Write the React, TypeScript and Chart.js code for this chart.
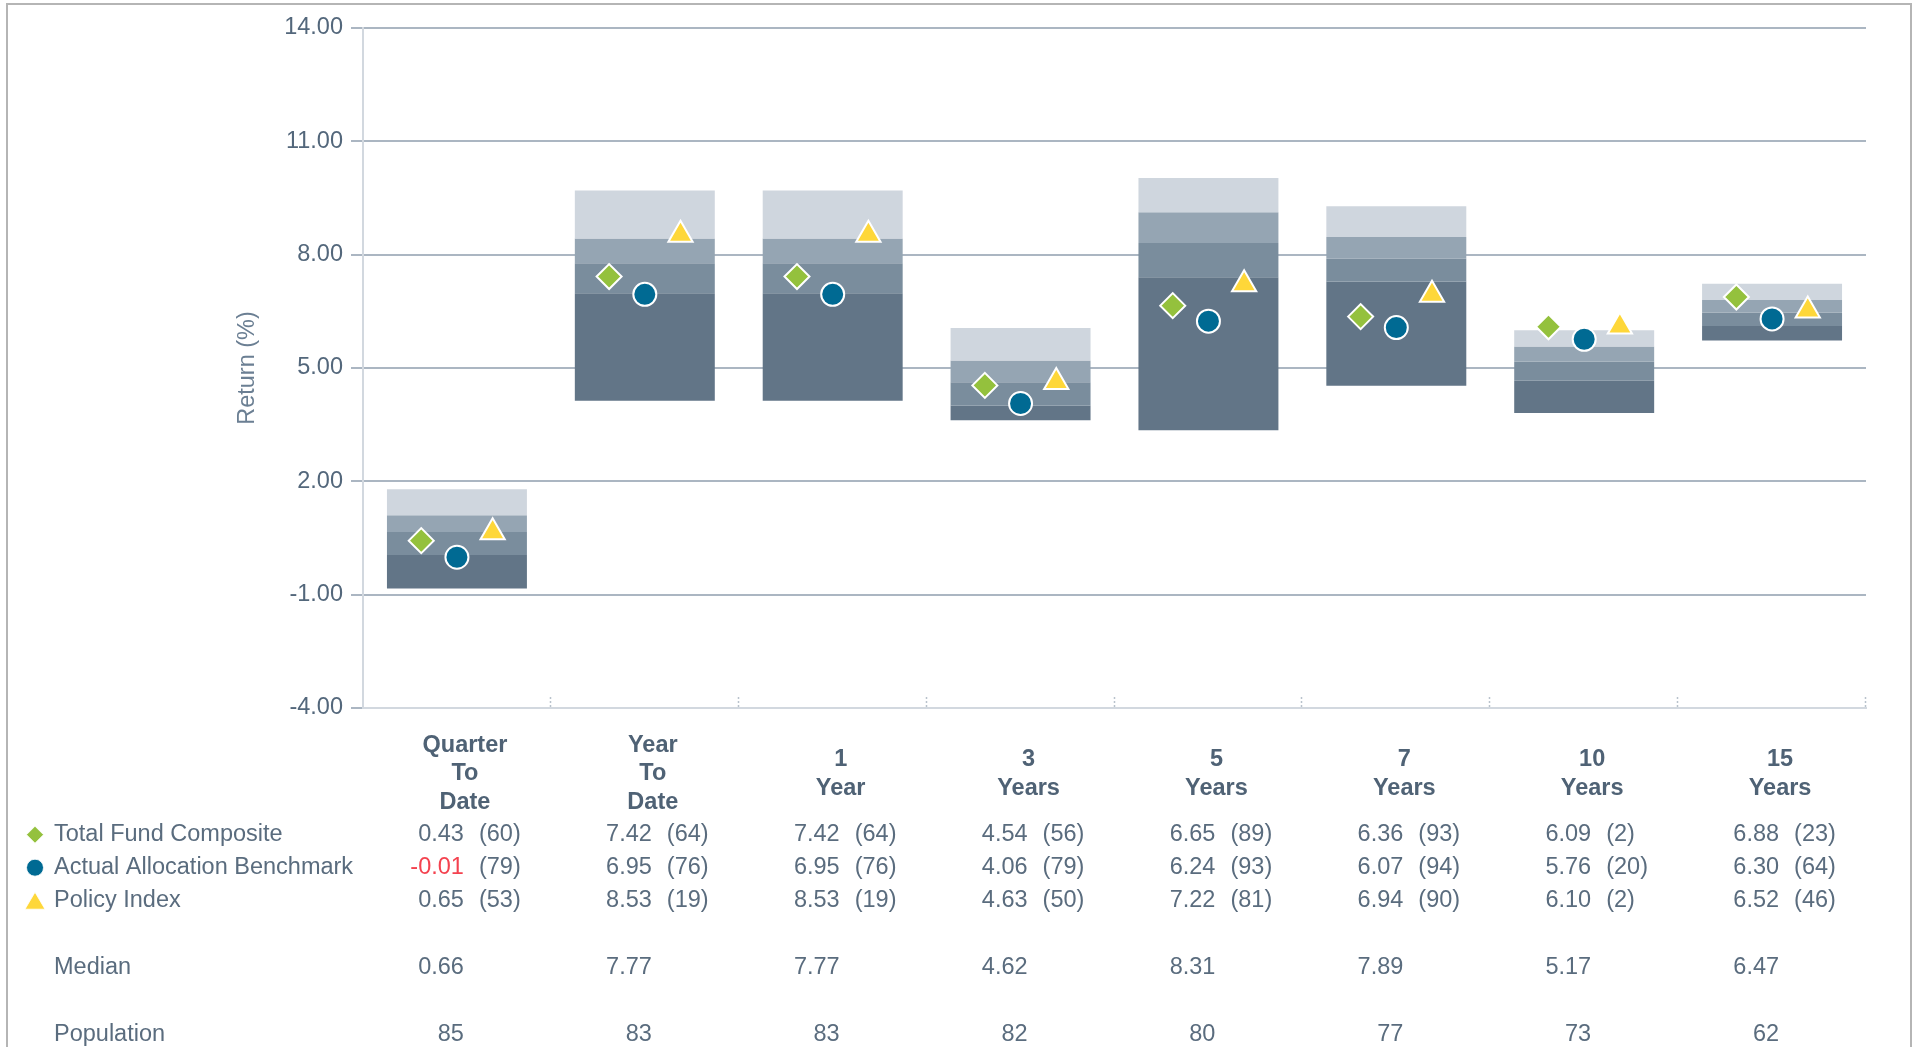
import React, { useEffect, useRef } from "react";
import { Chart, registerables } from "chart.js";

Chart.register(...registerables);

// Periods shown along the x axis (multi-line headings)
const periods: string[][] = [
  ["Quarter", "To", "Date"],
  ["Year", "To", "Date"],
  ["1", "Year"],
  ["3", "Years"],
  ["5", "Years"],
  ["7", "Years"],
  ["10", "Years"],
  ["15", "Years"],
];

// Returns (%) and peer ranks
const totalFund = [0.43, 7.42, 7.42, 4.54, 6.65, 6.36, 6.09, 6.88];
const totalFundRank = [60, 64, 64, 56, 89, 93, 2, 23];
const actualAllocation = [-0.01, 6.95, 6.95, 4.06, 6.24, 6.07, 5.76, 6.3];
const actualAllocationRank = [79, 76, 76, 79, 93, 94, 20, 64];
const policyIndex = [0.65, 8.53, 8.53, 4.63, 7.22, 6.94, 6.1, 6.52];
const policyIndexRank = [53, 19, 19, 50, 81, 90, 2, 46];

// Peer universe percentiles
const pct5 = [1.79, 9.7, 9.7, 6.06, 10.03, 9.28, 6.0, 7.23];
const pct25 = [1.1, 8.43, 8.43, 5.2, 9.12, 8.47, 5.57, 6.8];
const median = [0.66, 7.77, 7.77, 4.62, 8.31, 7.89, 5.17, 6.47];
const pct75 = [0.05, 6.98, 6.98, 4.01, 7.4, 7.29, 4.66, 6.11];
const pct95 = [-0.84, 4.13, 4.13, 3.62, 3.35, 4.53, 3.81, 5.73];
const population = [85, 83, 83, 82, 80, 77, 73, 62];

const yMin = -4;
const yMax = 14;
const yStep = 3;

const FONT = '"Liberation Sans", Arial, Helvetica, sans-serif';
const GREEN = "#94c13d";
const BLUE = "#006a93";
const YELLOW = "#fed739";
const BAND_COLORS = ["#cfd6de", "#95a5b3", "#7a8d9d", "#627587"];
const GRID = "#abb6c2";
const AXIS_LIGHT = "#d2d8df";
const TICK_COLOR = "#53677b";
const TITLE_COLOR = "#6b7f93";
const TEXT_COLOR = "#5a6c7e";
const HEAD_COLOR = "#4f6275";
const RED = "#f4424f";
const FRAME = "#b5b5b5";

const W = 1917;
const H = 1047;
const MARKER_SHIFT = 0.19; // sideways offset of the diamond / triangle, in category units
const FS = 23.5;

type Row = { label: string; values: number[]; ranks?: number[]; marker?: string; color?: string; digits: number };

const rows: Row[] = [
  { label: "Total Fund Composite", values: totalFund, ranks: totalFundRank, marker: "diamond", color: GREEN, digits: 2 },
  { label: "Actual Allocation Benchmark", values: actualAllocation, ranks: actualAllocationRank, marker: "circle", color: BLUE, digits: 2 },
  { label: "Policy Index", values: policyIndex, ranks: policyIndexRank, marker: "triangle", color: YELLOW, digits: 2 },
  { label: "Median", values: median, digits: 2 },
  { label: "Population", values: population, digits: 0 },
];
// vertical centres of the table rows, measured down from the bottom of the plot
const rowOffsets = [126.7, 159.7, 192.7, 259.7, 326.7];
const headerMidOffset = 66;
const headerLineH = 28.5;

function drawLegendMarker(ctx: CanvasRenderingContext2D, kind: string, x: number, y: number, color: string) {
  ctx.beginPath();
  if (kind === "diamond") {
    const r = 8.5;
    ctx.moveTo(x, y - r);
    ctx.lineTo(x + r, y);
    ctx.lineTo(x, y + r);
    ctx.lineTo(x - r, y);
  } else if (kind === "circle") {
    ctx.arc(x, y, 8.5, 0, Math.PI * 2);
  } else {
    ctx.moveTo(x, y - 8.5);
    ctx.lineTo(x + 10, y + 8.5);
    ctx.lineTo(x - 10, y + 8.5);
  }
  ctx.closePath();
  ctx.fillStyle = color;
  ctx.fill();
  ctx.lineWidth = 1;
  ctx.strokeStyle = "rgba(255,255,255,0.8)";
  ctx.stroke();
}

const tablePlugin = {
  id: "periodTable",
  afterDraw(chart: any) {
    const { ctx, chartArea } = chart;
    const xs = chart.scales.x;
    const bottom = chartArea.bottom;
    ctx.save();

    // outer frame
    ctx.strokeStyle = FRAME;
    ctx.lineWidth = 2;
    ctx.strokeRect(7, 4, 1904, 1100);

    // dotted separators between periods along the base of the plot
    ctx.strokeStyle = "#b9c2cc";
    ctx.lineWidth = 1.5;
    ctx.setLineDash([2, 2]);
    for (let i = 0; i < periods.length; i++) {
      const a = xs.getPixelForValue(i);
      const b = i + 1 < periods.length ? xs.getPixelForValue(i + 1) : a + (a - xs.getPixelForValue(i - 1));
      const bx = Math.round((a + b) / 2) - 0.5;
      ctx.beginPath();
      ctx.moveTo(bx, bottom - 11);
      ctx.lineTo(bx, bottom - 1);
      ctx.stroke();
    }
    ctx.setLineDash([]);

    // period headings
    ctx.fillStyle = HEAD_COLOR;
    ctx.font = `bold ${FS}px ${FONT}`;
    ctx.textAlign = "center";
    ctx.textBaseline = "middle";
    periods.forEach((lines, i) => {
      const cx = xs.getPixelForValue(i) + 8;
      const y0 = bottom + headerMidOffset - ((lines.length - 1) / 2) * headerLineH;
      lines.forEach((t, k) => ctx.fillText(t, cx, y0 + k * headerLineH));
    });

    // rows
    ctx.font = `${FS}px ${FONT}`;
    rows.forEach((row, r) => {
      const y = bottom + rowOffsets[r];
      if (row.marker) drawLegendMarker(ctx, row.marker, 35, y, row.color as string);
      ctx.fillStyle = TEXT_COLOR;
      ctx.textAlign = "left";
      ctx.fillText(row.label, 54, y);
      row.values.forEach((v, i) => {
        const cx = xs.getPixelForValue(i);
        ctx.textAlign = "right";
        ctx.fillStyle = v < 0 ? RED : TEXT_COLOR;
        ctx.fillText(v.toFixed(row.digits), cx + 7, y);
        if (row.ranks) {
          ctx.textAlign = "left";
          ctx.fillStyle = TEXT_COLOR;
          ctx.fillText(`(${row.ranks[i]})`, cx + 22, y);
        }
      });
    });
    ctx.restore();
  },
};

export default function App() {
  const canvasRef = useRef<HTMLCanvasElement | null>(null);

  useEffect(() => {
    const canvas = canvasRef.current;
    if (!canvas) return;

    const pointData = (vals: number[], shift: number) => vals.map((v, i) => ({ x: i + shift, y: v }));
    const markerBase = {
      type: "scatter" as const,
      xAxisID: "xm",
      yAxisID: "y",
      pointBorderColor: "#ffffff",
      pointBorderWidth: 2,
      order: 0,
    };
    const band = (lo: number[], hi: number[], color: string, label: string) => ({
      type: "bar" as const,
      label,
      data: lo.map((v, i) => [v, hi[i]]),
      backgroundColor: color,
      borderWidth: 0,
      grouped: false,
      barPercentage: 0.745,
      categoryPercentage: 1,
      xAxisID: "x",
      yAxisID: "y",
      order: 1,
    });

    const chart = new Chart(canvas, {
      type: "bar",
      data: {
        labels: periods.map((p) => p.join(" ")),
        datasets: [
          {
            ...markerBase,
            label: "Total Fund Composite",
            data: pointData(totalFund, -MARKER_SHIFT),
            pointStyle: "rectRot",
            pointRadius: 12.5,
            pointHoverRadius: 12.5,
            pointBackgroundColor: GREEN,
            backgroundColor: GREEN,
          },
          {
            ...markerBase,
            label: "Actual Allocation Benchmark",
            data: pointData(actualAllocation, 0),
            pointStyle: "circle",
            pointRadius: 11.5,
            pointHoverRadius: 11.5,
            pointBackgroundColor: BLUE,
            backgroundColor: BLUE,
          },
          {
            ...markerBase,
            label: "Policy Index",
            data: pointData(policyIndex, MARKER_SHIFT),
            pointStyle: "triangle",
            pointRadius: 14,
            pointHoverRadius: 14,
            pointBackgroundColor: YELLOW,
            backgroundColor: YELLOW,
          },
          band(pct25, pct5, BAND_COLORS[0], "5th - 25th"),
          band(median, pct25, BAND_COLORS[1], "25th - Median"),
          band(pct75, median, BAND_COLORS[2], "Median - 75th"),
          band(pct95, pct75, BAND_COLORS[3], "75th - 95th"),
        ] as any,
      },
      options: {
        responsive: false,
        animation: false,
        devicePixelRatio: 1,
        layout: { padding: { left: 220, top: 28, right: 51, bottom: H - 708 } },
        plugins: { legend: { display: false }, tooltip: { enabled: false } },
        scales: {
          x: {
            type: "category",
            grid: { display: false, drawTicks: false },
            border: { display: true, color: AXIS_LIGHT, width: 2 },
            ticks: { display: false },
          },
          xm: {
            type: "linear",
            display: false,
            offset: false,
            grid: { offset: false },
            bounds: "data",
            min: -0.5,
            max: periods.length - 0.5,
          },
          y: {
            type: "linear",
            min: yMin,
            max: yMax,
            afterFit: (s: any) => {
              s.width = 143;
            },
            ticks: {
              stepSize: yStep,
              callback: (v: any) => Number(v).toFixed(2),
              font: { family: FONT, size: FS },
              color: TICK_COLOR,
              padding: 8,
            },
            grid: {
              color: (c: any) => (c.index === 0 ? AXIS_LIGHT : GRID),
              lineWidth: 2,
              tickLength: 12,
              tickColor: GRID,
              tickWidth: 2,
            },
            border: { display: true, color: AXIS_LIGHT, width: 2 },
            title: {
              display: true,
              text: "Return (%)",
              font: { family: FONT, size: FS },
              color: TITLE_COLOR,
              padding: { top: 13, bottom: 15 },
            },
          },
        },
      } as any,
      plugins: [tablePlugin],
    });

    return () => chart.destroy();
  }, []);

  return (
    <div style={{ position: "fixed", left: 0, top: 0, width: W, height: H, background: "#ffffff", overflow: "hidden" }}>
      <canvas ref={canvasRef} width={W} height={H} style={{ display: "block", width: W, height: H }} />
    </div>
  );
}
